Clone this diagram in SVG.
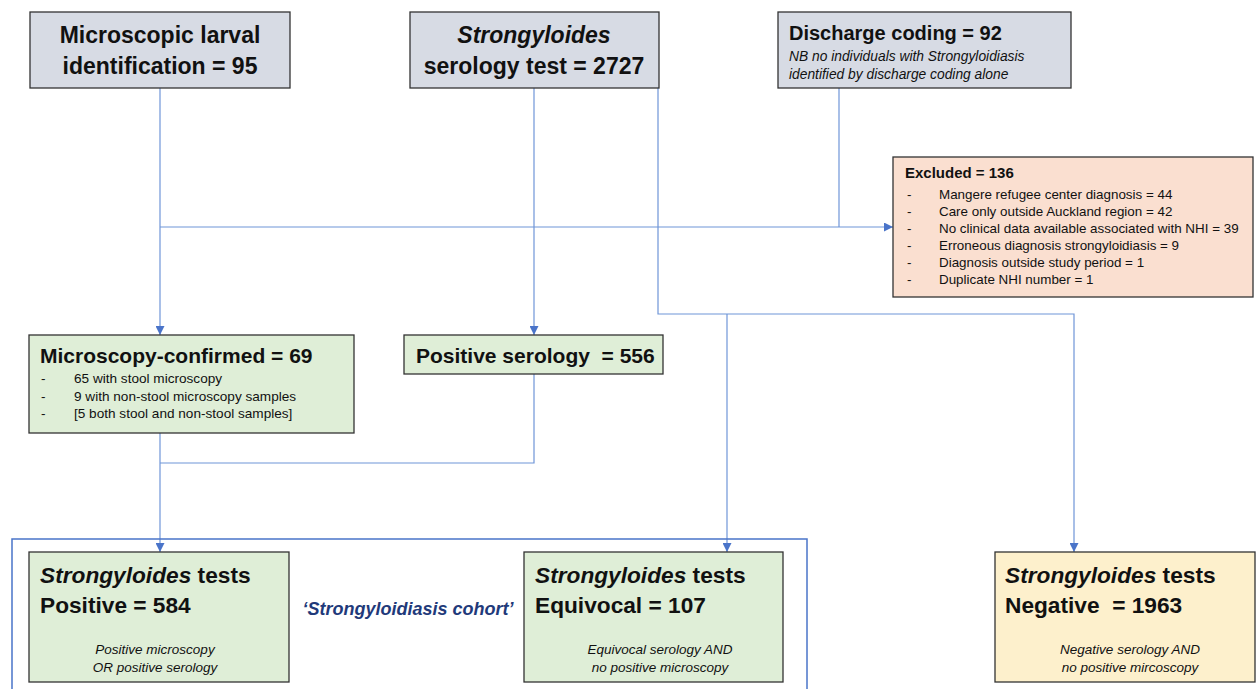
<svg xmlns="http://www.w3.org/2000/svg" width="1256" height="689" viewBox="0 0 1256 689">
<style>
text{font-family:"Liberation Sans",Arial,sans-serif;fill:#111;white-space:pre}
.box{stroke:#333;stroke-width:1.3}
.grey{fill:#d7dbe4}
.green{fill:#dfeed7}
.salmon{fill:#fadfd0}
.yellow{fill:#fdf0cc}
.big{font-size:23px;font-weight:bold}
.mid{font-size:21px;font-weight:bold}
.bi{font-size:22.7px;font-weight:bold}
.it{font-style:italic}
.sm{font-size:13.4px}
.note{font-size:13.5px;font-style:italic}
.c{text-anchor:middle}
.con{fill:none;stroke:#6f95d8;stroke-width:1.2}
</style>
<defs>
<marker id="ah" viewBox="0 0 10 10" refX="10" refY="5" markerWidth="9" markerHeight="9" markerUnits="userSpaceOnUse" orient="auto">
<path d="M0,0 L10,5 L0,10 Z" fill="#4a74c9"/>
</marker>
</defs>
<rect width="1256" height="689" fill="#fff"/>
<g id="connectors">
<path class="con" d="M160,88 V335" marker-end="url(#ah)"/>
<path class="con" d="M160,227 H893" marker-end="url(#ah)"/>
<path class="con" d="M534,88 V335" marker-end="url(#ah)"/>
<path class="con" d="M839,88 V227"/>
<path class="con" d="M658,88 V314 H1074 V552" marker-end="url(#ah)"/>
<path class="con" d="M727,314 V552" marker-end="url(#ah)"/>
<path class="con" d="M160,433 V552" marker-end="url(#ah)"/>
<path class="con" d="M534,374 V463 H160"/>
</g>
<g id="cohort">
<rect x="12" y="539" width="795" height="170" fill="none" stroke="#4a74c9" stroke-width="1.5"/>
<text x="408" y="615" class="c" style="font-size:18px;font-weight:bold;font-style:italic;fill:#1f3a7a">‘Strongyloidiasis cohort’</text>
</g>
<g id="microscopic">
<rect class="box grey" x="30" y="12" width="260" height="76"/>
<text x="160" y="43" class="big c">Microscopic larval</text>
<text x="160" y="74" class="big c">identification = 95</text>
</g>
<g id="serology">
<rect class="box grey" x="410" y="12" width="249" height="76"/>
<text x="534" y="43" class="big c it">Strongyloides</text>
<text x="534" y="74" class="big c">serology test = 2727</text>
</g>
<g id="discharge">
<rect class="box grey" x="778" y="12" width="293" height="76"/>
<text x="789" y="40" style="font-size:20px;font-weight:bold">Discharge coding = 92</text>
<text x="789" y="61" class="note" style="font-size:13.8px">NB no individuals with Strongyloidiasis</text>
<text x="789" y="79" class="note" style="font-size:13.8px">identified by discharge coding alone</text>
</g>
<g id="excluded">
<rect class="box salmon" x="893" y="157" width="360" height="140"/>
<text x="905" y="178" style="font-size:15px;font-weight:bold">Excluded = 136</text>
<g class="sm">
<text x="907" y="199">-</text><text x="939" y="199">Mangere refugee center diagnosis = 44</text>
<text x="907" y="216">-</text><text x="939" y="216">Care only outside Auckland region = 42</text>
<text x="907" y="233">-</text><text x="939" y="233">No clinical data available associated with NHI = 39</text>
<text x="907" y="250">-</text><text x="939" y="250">Erroneous diagnosis strongyloidiasis = 9</text>
<text x="907" y="267">-</text><text x="939" y="267">Diagnosis outside study period = 1</text>
<text x="907" y="284">-</text><text x="939" y="284">Duplicate NHI number = 1</text>
</g>
</g>
<g id="confirmed">
<rect class="box green" x="29" y="335" width="325" height="98"/>
<text x="40" y="363" class="mid">Microscopy-confirmed = 69</text>
<g style="font-size:13.6px">
<text x="41" y="383">-</text><text x="74" y="383">65 with stool microscopy</text>
<text x="41" y="401">-</text><text x="74" y="401">9 with non-stool microscopy samples</text>
<text x="41" y="418">-</text><text x="74" y="418">[5 both stool and non-stool samples]</text>
</g>
</g>
<g id="posserology">
<rect class="box green" x="404" y="335" width="259" height="39"/>
<text x="416" y="363" class="mid">Positive serology  = 556</text>
</g>
<g id="positive">
<rect class="box green" x="29" y="552" width="260" height="130"/>
<text x="40" y="583" class="bi"><tspan class="it">Strongyloides</tspan> tests</text>
<text x="40" y="613" class="bi">Positive = 584</text>
<text x="155" y="654" class="note c">Positive microscopy</text>
<text x="155" y="672" class="note c">OR positive serology</text>
</g>
<g id="equivocal">
<rect class="box green" x="524" y="552" width="259" height="130"/>
<text x="535" y="583" class="bi"><tspan class="it">Strongyloides</tspan> tests</text>
<text x="535" y="613" class="bi">Equivocal = 107</text>
<text x="660" y="654" class="note c">Equivocal serology AND</text>
<text x="660" y="672" class="note c">no positive microscopy</text>
</g>
<g id="negative">
<rect class="box yellow" x="995" y="552" width="260" height="130"/>
<text x="1005" y="583" class="bi"><tspan class="it">Strongyloides</tspan> tests</text>
<text x="1005" y="613" class="bi">Negative  = 1963</text>
<text x="1130" y="654" class="note c">Negative serology AND</text>
<text x="1130" y="672" class="note c">no positive mircoscopy</text>
</g>
</svg>
